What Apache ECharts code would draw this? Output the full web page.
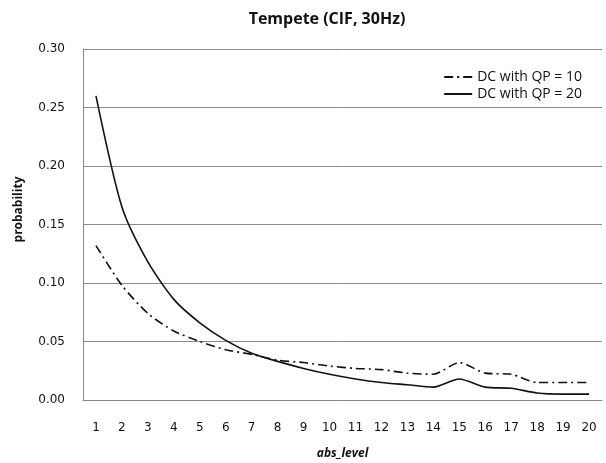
<!DOCTYPE html>
<html>
<head>
  <meta charset="utf-8">
</head>
<body style="margin: 0">
  <div id="container" style="width: 606px; height: 463px"></div>

  <script type="text/javascript" src="https://fastly.jsdelivr.net/npm/echarts@6/dist/echarts.min.js"></script>

  <script type="text/javascript">
    var levels = ['1', '2', '3', '4', '5', '6', '7', '8', '9', '10',
                  '11', '12', '13', '14', '15', '16', '17', '18', '19', '20'];
    var qp10 = [0.132, 0.098, 0.074, 0.059, 0.050, 0.043, 0.039, 0.034, 0.032, 0.029,
                0.027, 0.026, 0.023, 0.022, 0.032, 0.023, 0.022, 0.015, 0.015, 0.015];
    var qp20 = [0.260, 0.165, 0.118, 0.086, 0.066, 0.051, 0.040, 0.033, 0.027, 0.022,
                0.018, 0.015, 0.013, 0.011, 0.018, 0.011, 0.010, 0.006, 0.005, 0.005];
    var yTicks = ['0.00', '0.05', '0.10', '0.15', '0.20', '0.25', '0.30'];

    var myChart = echarts.init(document.getElementById('container'), null, { renderer: 'canvas' });
    var axisFont = 'DejaVu Sans';

    var option = {
      animation: false,
      backgroundColor: '#fff',
      title: {
        text: 'Tempete (CIF, 30Hz)',
        left: 322,
        top: 6,
        textAlign: 'center',
        textStyle: { fontFamily: 'Open Sans', fontWeight: 'bold', fontSize: 16, color: '#111' }
      },
      legend: {
        orient: 'vertical',
        right: 19,
        top: 65,
        itemWidth: 28,
        itemHeight: 10,
        itemGap: 3,
        itemStyle: { opacity: 0 },
        textStyle: { fontFamily: 'Open Sans', fontSize: 14, color: '#111' },
        data: ['DC with QP = 10', 'DC with QP = 20']
      },
      grid: { left: 83, right: 4, top: 49, bottom: 63, containLabel: false, outerBoundsMode: 'none' },
      xAxis: {
        type: 'category',
        data: levels,
        name: 'abs_level',
        nameLocation: 'middle',
        nameGap: 48,
        nameTextStyle: { fontFamily: 'Open Sans', fontWeight: 'bold', fontStyle: 'italic', fontSize: 12, color: '#111' },
        axisLine: { lineStyle: { color: '#888' } },
        axisTick: { show: false },
        axisLabel: { margin: 22, fontFamily: axisFont, fontSize: 12, color: '#111' }
      },
      yAxis: {
        type: 'value',
        min: 0,
        max: 0.3,
        interval: 0.05,
        name: 'probability',
        nameLocation: 'middle',
        nameGap: 58,
        nameRotate: 90,
        nameTextStyle: { fontFamily: 'Open Sans', fontWeight: 'bold', fontSize: 12, color: '#111', padding: [0, 0, 0, 30] },
        axisLine: { show: true, lineStyle: { color: '#888' } },
        axisTick: { show: false },
        axisLabel: {
          margin: 18,
          fontFamily: axisFont,
          fontSize: 12,
          color: '#111',
          formatter: function (v) { return yTicks[Math.round(v / 0.05)]; }
        },
        splitLine: { lineStyle: { color: '#8a8a8a', width: 1 } }
      },
      series: [
        {
          name: 'DC with QP = 10',
          type: 'line',
          data: qp10,
          smooth: 0.25,
          showSymbol: false,
          symbol: 'none',
          lineStyle: { color: '#111', width: 1.6, type: [9, 4, 2, 4] },
          itemStyle: { color: '#111' }
        },
        {
          name: 'DC with QP = 20',
          type: 'line',
          data: qp20,
          smooth: 0.25,
          showSymbol: false,
          symbol: 'none',
          lineStyle: { color: '#111', width: 1.6 },
          itemStyle: { color: '#111' }
        }
      ]
    };

    myChart.setOption(option);
    window.addEventListener('resize', myChart.resize);
  </script>
</body>
</html>
